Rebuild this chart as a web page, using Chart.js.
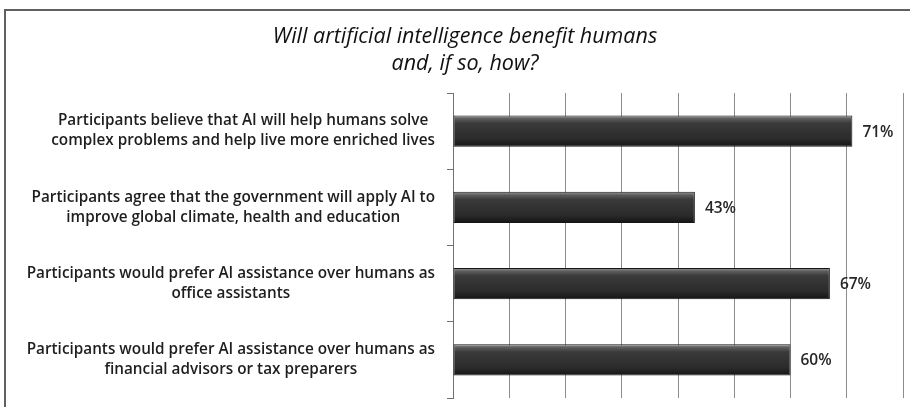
<!DOCTYPE html>
<html>
<head>
<meta charset="utf-8">
<script src="https://cdn.jsdelivr.net/npm/chart.js@4/dist/chart.umd.min.js"></script>
<style>
  html, body { margin: 0; padding: 0; background: #fff; overflow: hidden; }
  #frame { position: absolute; left: 4px; top: 9px; width: 930px; height: 420px; border: 2px solid #606060; }
  #wrap { position: absolute; left: 0; top: 0; width: 910px; height: 407px; }
</style>
</head>
<body>
<div id="frame"></div>
<div id="wrap"><canvas id="myChart" width="910" height="407"></canvas></div>
<script>
// categories (one array of lines per label)
var labels = [
  ['Participants believe that AI will help humans solve', 'complex problems and help live more enriched lives'],
  ['Participants agree that the government will apply AI to', 'improve global climate, health and education'],
  ['Participants would prefer AI assistance over humans as', 'office assistants'],
  ['Participants would prefer AI assistance over humans as', 'financial advisors or tax preparers']
]
// values in percent
var data = [71, 43, 67, 60]
var titleLines = ['Will artificial intelligence benefit humans', 'and, if so, how?']

var labelFont = '600 15.3px "Open Sans"'

// bars get a vertical glossy gradient
function barFill(ctx) {
  var chart = ctx.chart
  var y = chart.scales && chart.scales.y
  if (!chart.chartArea || !y || ctx.dataIndex === undefined) return '#2e2e2e'
  var center = y.getPixelForValue(ctx.dataIndex)
  var band = y.height / labels.length
  var h = band * 0.41
  var g = chart.ctx.createLinearGradient(0, center - h / 2, 0, center + h / 2)
  g.addColorStop(0, '#a0a0a0')
  g.addColorStop(0.1, '#5e5e5e')
  g.addColorStop(0.25, '#3a3a3a')
  g.addColorStop(0.75, '#2b2b2b')
  g.addColorStop(1, '#141414')
  return g
}

// y labels: block aligned right, lines centred in block
var blockLabels = {
  id: 'blockLabels',
  afterDraw: function(chart) {
    var c = chart.ctx
    var y = chart.scales.y
    var right = y.right - 18
    c.save()
    c.font = labelFont
    c.fillStyle = '#1e1e1e'
    c.textAlign = 'center'
    c.textBaseline = 'middle'
    for (var i = 0; i < labels.length; i++) {
      var lines = labels[i]
      var w = 0
      for (var k = 0; k < lines.length; k++) w = Math.max(w, c.measureText(lines[k]).width)
      var cx = right - w / 2
      var cy = y.getPixelForValue(i)
      var lh = 20
      for (var k = 0; k < lines.length; k++) {
        c.fillText(lines[k], cx, cy + (k - (lines.length - 1) / 2) * lh)
      }
    }
    c.restore()
  }
}

// value labels after the bar end
var valueLabels = {
  id: 'valueLabels',
  afterDatasetsDraw: function(chart) {
    var c = chart.ctx
    var meta = chart.getDatasetMeta(0)
    c.save()
    c.font = '600 15.5px "Open Sans"'
    c.fillStyle = '#262626'
    c.textAlign = 'left'
    c.textBaseline = 'middle'
    meta.data.forEach(function(bar, i) {
      c.fillText(data[i] + '%', bar.x + 10, bar.y + 1)
    })
    c.restore()
  }
}

var ctx = document.getElementById('myChart').getContext('2d')
var myChart = new Chart(ctx, {
  type: 'bar',
  data: {
    labels: labels.map(function(l) { return l.join(' ') }),
    datasets: [{
      data: data,
      backgroundColor: barFill,
      borderColor: '#151515',
      borderWidth: 1,
      borderSkipped: false,
      barPercentage: 0.41,
      categoryPercentage: 1
    }]
  },
  options: {
    indexAxis: 'y',
    responsive: false,
    animation: false,
    layout: { padding: { left: 27, right: 7, top: 0, bottom: 9 } },
    plugins: {
      legend: { display: false },
      tooltip: { enabled: false },
      title: {
        display: true,
        text: titleLines,
        color: '#111',
        font: { family: '"Open Sans"', style: 'italic', size: 21.5, weight: 'normal', lineHeight: '27px' },
        padding: { top: 23, bottom: 16 }
      }
    },
    scales: {
      x: {
        min: 0,
        max: 80,
        ticks: { display: false, stepSize: 10 },
        grid: { color: '#8c8c8c', lineWidth: 1, drawTicks: false },
        border: { display: false }
      },
      y: {
        ticks: { display: false },
        grid: { drawOnChartArea: false, drawTicks: true, tickLength: 6, color: '#707070', offset: true },
        border: { display: true, color: '#707070', width: 1 },
        afterFit: function(scale) { scale.width = 426 }
      }
    }
  },
  plugins: [blockLabels, valueLabels]
})
</script>
</body>
</html>
